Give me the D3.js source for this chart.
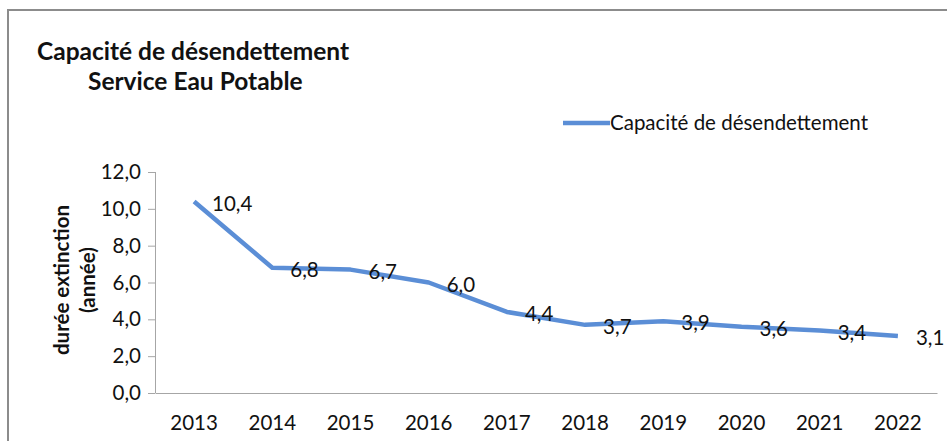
<!DOCTYPE html>
<html>
<head>
<meta charset="utf-8">
<script src="https://cdn.jsdelivr.net/npm/d3@7"></script>
<style>
    body { margin: 0; background: #fff; }
    svg text { font-family: Lato, "Open Sans", sans-serif; fill: #111; }
</style>
</head>
<body>
<div id="chart"></div>
<script>
// data
var years = ["2013", "2014", "2015", "2016", "2017", "2018", "2019", "2020", "2021", "2022"];
var capacite = [10.4, 6.8, 6.7, 6.0, 4.4, 3.7, 3.9, 3.6, 3.4, 3.1];
var yTicks = [0, 2, 4, 6, 8, 10, 12];
var seriesName = "Capacité de désendettement";

var svgWidth = 947;
var svgHeight = 441;

var margin = { top: 172, right: 10, bottom: 48, left: 155 };
var width = 937 - margin.left;
var height = 393 - margin.top;

var svg = d3.select("#chart")
    .append("svg")
    .attr("width", svgWidth)
    .attr("height", svgHeight);

// frame (only top and left edges visible)
svg.append("path")
    .attr("d", "M8,441 V10 H947")
    .attr("fill", "none")
    .attr("stroke", "#8c8c8c")
    .attr("stroke-width", 2);

// title
var title = svg.append("text")
    .attr("font-weight", "bold")
    .attr("font-size", 24.5);
title.append("tspan").attr("x", 37).attr("y", 60).text("Capacité de désendettement");
title.append("tspan").attr("x", 88).attr("y", 90).text("Service Eau Potable");

var chartGroup = svg.append("g")
    .attr("transform", `translate(${margin.left}, ${margin.top})`);

var xScale = d3.scaleBand()
    .domain(years)
    .range([0, width]);

var yScale = d3.scaleLinear()
    .domain([0, 12])
    .range([height, 0]);

var fmt = d => d3.format(".1f")(d).replace(".", ",");

// y axis
var leftAxis = d3.axisLeft(yScale)
    .tickValues(yTicks)
    .tickSize(7)
    .tickPadding(7)
    .tickFormat(fmt);

var yAxis = chartGroup.append("g").call(leftAxis);
yAxis.select(".domain").attr("stroke", "#a6a6a6").attr("d", `M0.5,0V${height}`);
yAxis.selectAll(".tick line").attr("stroke", "#a6a6a6");
yAxis.selectAll(".tick text").attr("font-size", 20.5).attr("font-family", "Lato").attr("fill", "#111");

// x axis
var bottomAxis = d3.axisBottom(xScale).tickSize(0).tickPadding(22);
var xAxis = chartGroup.append("g")
    .attr("transform", `translate(0, ${height})`)
    .call(bottomAxis);
xAxis.select(".domain").attr("stroke", "#a6a6a6");
xAxis.selectAll(".tick text").attr("font-size", 20.5).attr("font-family", "Lato").attr("fill", "#111");

// y axis title
var yLabel = chartGroup.append("text")
    .attr("transform", `translate(-86, 108) rotate(-90)`)
    .attr("text-anchor", "middle")
    .attr("font-weight", "bold")
    .attr("font-size", 20.5);
yLabel.append("tspan").attr("x", 0).attr("y", 0).text("durée extinction");
yLabel.append("tspan").attr("x", 0).attr("y", 26).text("(année)");

// line
var line = d3.line()
    .x((d, i) => xScale(years[i]) + xScale.bandwidth() / 2)
    .y(d => yScale(d));

chartGroup.append("path")
    .datum(capacite)
    .attr("fill", "none")
    .attr("stroke", "#5b8ed6")
    .attr("stroke-width", 4.5)
    .attr("stroke-linejoin", "round")
    .attr("d", line);

// data labels
chartGroup.selectAll(".dataLabel")
    .data(capacite)
    .enter()
    .append("text")
    .attr("class", "dataLabel")
    .attr("x", (d, i) => xScale(years[i]) + xScale.bandwidth() / 2 + 18)
    .attr("y", d => yScale(d) + 2)
    .attr("dy", "0.35em")
    .attr("font-size", 20.5)
    .text(fmt);

// legend
var legend = svg.append("g").attr("transform", "translate(563, 123)");
legend.append("line")
    .attr("x1", 0).attr("x2", 47)
    .attr("stroke", "#5b8ed6")
    .attr("stroke-width", 4.5);
legend.append("text")
    .attr("x", 47)
    .attr("dy", "0.35em")
    .attr("font-size", 20.5)
    .text(seriesName);
</script>
</body>
</html>
